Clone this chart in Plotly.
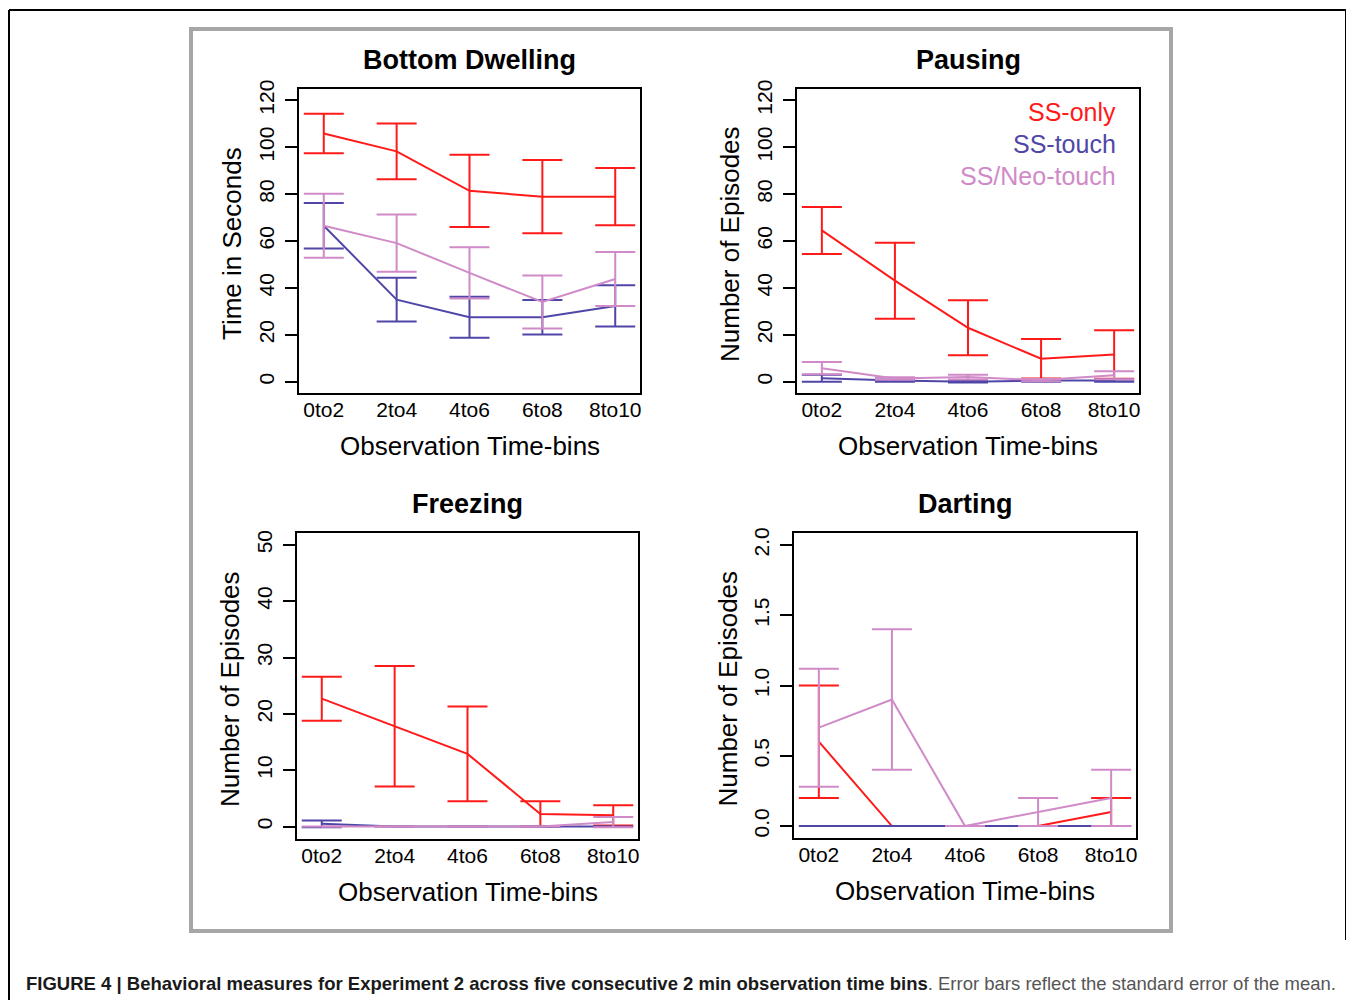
import plotly.graph_objects as go

bins = ["0to2", "2to4", "4to6", "6to8", "8to10"]
xpos = [1, 2, 3, 4, 5]
groups = ["SS-only", "SS-touch", "SS/Neo-touch"]
colors = ["#FF1A1A", "#5046A8", "#D08AC8"]

# Bottom Dwelling (seconds): means and SE
bd_mean = {"SS-only": [105.8, 98.2, 81.4, 78.9, 78.9],
           "SS-touch": [66.5, 35.0, 27.5, 27.5, 32.3],
           "SS/Neo-touch": [66.5, 59.1, 46.4, 34.0, 43.8]}
bd_se = {"SS-only": [8.4, 11.9, 15.4, 15.6, 12.2],
         "SS-touch": [9.7, 9.3, 8.7, 7.4, 8.8],
         "SS/Neo-touch": [13.6, 12.2, 10.9, 11.3, 11.5]}

# Pausing (episodes)
pa_mean = {"SS-only": [64.5, 43.1, 23.0, 9.8, 11.6],
           "SS-touch": [1.5, 0.5, 0.0, 0.5, 0.5],
           "SS/Neo-touch": [5.8, 1.4, 2.0, 0.7, 2.8]}
pa_se = {"SS-only": [10.0, 16.2, 11.7, 8.4, 10.3],
         "SS-touch": [1.5, 0.5, 0.3, 0.5, 0.5],
         "SS/Neo-touch": [2.6, 0.5, 1.0, 0.5, 1.7]}

# Freezing (episodes)
fr_mean = {"SS-only": [22.7, 17.8, 12.9, 2.25, 2.0],
           "SS-touch": [0.5, 0.0, 0.0, 0.0, 0.0],
           "SS/Neo-touch": [0.0, 0.0, 0.0, 0.0, 0.8]}
fr_se = {"SS-only": [3.9, 10.7, 8.4, 2.25, 1.8],
         "SS-touch": [0.6, 0.0, 0.0, 0.0, 0.0],
         "SS/Neo-touch": [0.0, 0.0, 0.0, 0.0, 0.9]}

# Darting (episodes)
da_mean = {"SS-only": [0.6, 0.0, 0.0, 0.0, 0.1],
           "SS-touch": [0.0, 0.0, 0.0, 0.0, 0.0],
           "SS/Neo-touch": [0.7, 0.9, 0.0, 0.1, 0.2]}
da_se = {"SS-only": [0.4, 0.0, 0.0, 0.0, 0.1],
         "SS-touch": [0.0, 0.0, 0.0, 0.0, 0.0],
         "SS/Neo-touch": [0.42, 0.5, 0.0, 0.1, 0.2]}

# page has an 8px body margin: figure occupies (8,8)-(1354,1000)
OFF = 8
W, H = 1354 - OFF, 1000 - OFF
FONT = "Liberation Sans, Arial, Helvetica, sans-serif"


def PX(x):
    return (x - OFF) / W


def PY(y):
    return 1 - (y - OFF) / H


panels = [
    dict(title="Bottom Dwelling", ytitle="Time in Seconds", mean=bd_mean, se=bd_se,
         box=(299, 640, 89, 393), yrange=[-4.8, 124.8], ytick=[0, 20, 40, 60, 80, 100, 120],
         ytext=["0", "20", "40", "60", "80", "100", "120"]),
    dict(title="Pausing", ytitle="Number of Episodes", mean=pa_mean, se=pa_se,
         box=(797, 1139, 89, 393), yrange=[-4.8, 124.8], ytick=[0, 20, 40, 60, 80, 100, 120],
         ytext=["0", "20", "40", "60", "80", "100", "120"]),
    dict(title="Freezing", ytitle="Number of Episodes", mean=fr_mean, se=fr_se,
         box=(297, 638, 533, 839), yrange=[-2.2, 52.1], ytick=[0, 10, 20, 30, 40, 50],
         ytext=["0", "10", "20", "30", "40", "50"]),
    dict(title="Darting", ytitle="Number of Episodes", mean=da_mean, se=da_se,
         box=(794, 1136, 533, 838), yrange=[-0.085, 2.085], ytick=[0, 0.5, 1.0, 1.5, 2.0],
         ytext=["0.0", "0.5", "1.0", "1.5", "2.0"]),
]

fig = go.Figure()
layout = dict(width=W, height=H, margin=dict(l=0, r=0, t=0, b=0, autoexpand=False),
              paper_bgcolor="white", plot_bgcolor="white", showlegend=False,
              font=dict(family=FONT, color="black"))
annotations = []
shapes = []

for i, p in enumerate(panels):
    n = "" if i == 0 else str(i + 1)
    xa, ya = "x" + n, "y" + n
    l, r, t, b = p["box"]
    layout["xaxis" + n] = dict(
        domain=[PX(l), PX(r)], range=[0.66, 5.34], anchor=ya,
        tickmode="array", tickvals=xpos, ticktext=bins, ticks="",
        showgrid=False, zeroline=False, showline=True, linecolor="black",
        linewidth=2, mirror=True, tickfont=dict(size=21, family=FONT),
        ticklabelstandoff=-3)
    layout["yaxis" + n] = dict(
        domain=[PY(b), PY(t)], range=p["yrange"], anchor=xa,
        tickmode="array", tickvals=p["ytick"], ticktext=p["ytext"],
        ticks="outside", ticklen=12, tickwidth=2, tickcolor="black",
        tickangle=-90, showgrid=False, zeroline=False, showline=True,
        linecolor="black", linewidth=2, mirror=True,
        tickfont=dict(size=21, family=FONT), ticklabelstandoff=3)
    for g, c in zip(groups, colors):
        fig.add_trace(go.Scatter(
            x=xpos, y=p["mean"][g], mode="lines", xaxis=xa, yaxis=ya,
            line=dict(color=c, width=2),
            error_y=dict(type="data", array=p["se"][g], visible=True,
                         color=c, thickness=2, width=20),
            name=g))
    cx = (l + r) / 2
    annotations.append(dict(text="<b>" + p["title"] + "</b>", x=PX(cx), y=PY(t - 29),
                            xref="paper", yref="paper", showarrow=False,
                            font=dict(size=27, family=FONT), xanchor="center", yanchor="middle"))
    annotations.append(dict(text="Observation Time-bins", x=PX(cx), y=PY(b + 53),
                            xref="paper", yref="paper", showarrow=False,
                            font=dict(size=26, family=FONT), xanchor="center", yanchor="middle"))
    annotations.append(dict(text=p["ytitle"], x=PX(l - 67), y=PY((t + b) / 2 + 3),
                            xref="paper", yref="paper", showarrow=False, textangle=-90,
                            font=dict(size=26, family=FONT), xanchor="center", yanchor="middle"))

# legend text in Pausing panel
for g, c, yy in zip(groups, colors, [112, 144, 176]):
    annotations.append(dict(text=g, x=PX(1118), y=PY(yy), xref="paper", yref="paper",
                            showarrow=False, xanchor="right", yanchor="middle",
                            font=dict(size=25, family=FONT, color=c)))

# caption
annotations.append(dict(
    text="<b>FIGURE 4 | Behavioral measures for Experiment 2 across five consecutive 2 min observation time bins</b>"
         "<span style='color:#555555'>. Error bars reflect the standard error of the mean.</span>",
    x=PX(24), y=PY(983), xref="paper", yref="paper", showarrow=False,
    xanchor="left", yanchor="middle",
    font=dict(size=18.5, family=FONT, color="#1a1a1a")))

# gray frame and outer border
shapes.append(dict(type="rect", xref="paper", yref="paper", x0=PX(191), x1=PX(1171),
                   y0=PY(931), y1=PY(29), line=dict(color="#A6A6A6", width=4)))
shapes.append(dict(type="line", xref="paper", yref="paper", x0=PX(9), x1=PX(1346),
                   y0=PY(10), y1=PY(10), line=dict(color="black", width=2)))
shapes.append(dict(type="line", xref="paper", yref="paper", x0=PX(9), x1=PX(9),
                   y0=PY(10), y1=PY(1000), line=dict(color="black", width=2)))
shapes.append(dict(type="line", xref="paper", yref="paper", x0=PX(1346), x1=PX(1346),
                   y0=PY(10), y1=PY(940), line=dict(color="black", width=2)))

layout["annotations"] = annotations
layout["shapes"] = shapes
fig.update_layout(**layout)
fig.write_html("out.html")
